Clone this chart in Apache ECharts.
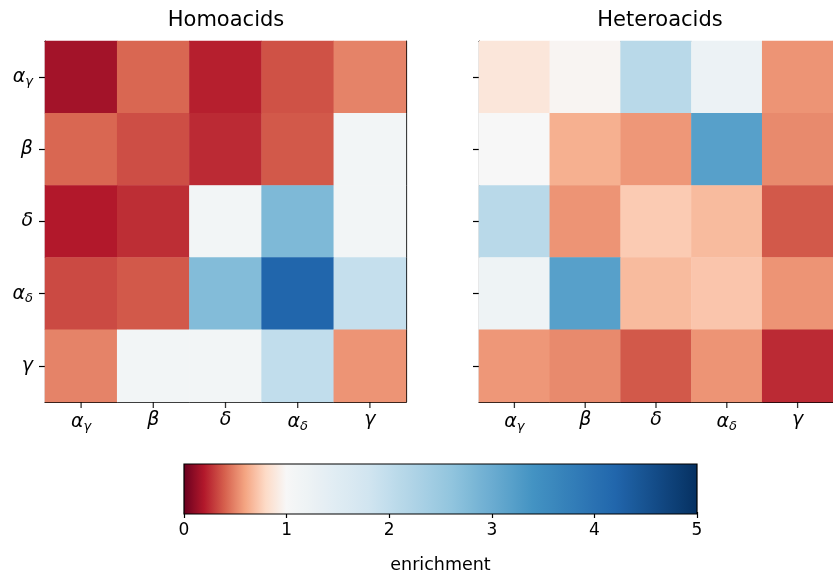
<!DOCTYPE html>
<html>
<head>
<meta charset="utf-8">
<script src="https://cdn.jsdelivr.net/npm/echarts@6/dist/echarts.min.js"></script>
<style>
  html, body { margin: 0; padding: 0; background: #fff; }
  #chart { width: 833px; height: 575px; }
</style>
</head>
<body>
<div id="chart"></div>
<script>
// residue classes (rows top -> bottom, columns left -> right)
var classes = ['αγ', 'β', 'δ', 'αδ', 'γ'];
var titles = ['Homoacids', 'Heteroacids'];

// enrichment values, one array per row
var homoRowAlphaGamma = [0.16, 0.42, 0.22, 0.36, 0.50];
var homoRowBeta       = [0.42, 0.35, 0.25, 0.38, 1.10];
var homoRowDelta      = [0.20, 0.26, 1.10, 2.80, 1.10];
var homoRowAlphaDelta = [0.34, 0.38, 2.75, 4.20, 1.95];
var homoRowGamma      = [0.50, 1.10, 1.10, 2.00, 0.55];

var heteroRowAlphaGamma = [0.88, 0.98, 2.10, 1.25, 0.55];
var heteroRowBeta       = [1.00, 0.64, 0.56, 3.20, 0.52];
var heteroRowDelta      = [2.10, 0.55, 0.74, 0.68, 0.38];
var heteroRowAlphaDelta = [1.20, 3.20, 0.68, 0.72, 0.55];
var heteroRowGamma      = [0.56, 0.52, 0.38, 0.55, 0.25];

// colour bar ticks
var barTicks = [0, 1, 2, 3, 4, 5];

var homoRows = [homoRowAlphaGamma, homoRowBeta, homoRowDelta, homoRowAlphaDelta, homoRowGamma];
var heteroRows = [heteroRowAlphaGamma, heteroRowBeta, heteroRowDelta, heteroRowAlphaDelta, heteroRowGamma];

// RdBu colormap, white centred at 1 on a 0..5 scale
var rdbu = ['#67001f', '#b2182b', '#d6604d', '#f4a582', '#fddbc7', '#f7f7f7',
            '#d1e5f0', '#92c5de', '#4393c3', '#2166ac', '#053061'];
function hexToRgb(h) {
    return [parseInt(h.substr(1, 2), 16), parseInt(h.substr(3, 2), 16), parseInt(h.substr(5, 2), 16)];
}
function colorAt(v) {
    var pos = v <= 1 ? 0.5 * v : 0.5 + 0.5 * (v - 1) / 4;
    var f = pos * 10;
    var i = Math.min(Math.floor(f), 9);
    var t = f - i;
    var a = hexToRgb(rdbu[i]), b = hexToRgb(rdbu[i + 1]);
    var c = a.map(function (x, k) { return Math.round(x + (b[k] - x) * t); });
    return 'rgb(' + c.join(',') + ')';
}
var mapColors = [];
var gradStops = [];
for (var s = 0; s <= 50; s++) {
    mapColors.push(colorAt(s / 10));
    gradStops.push({ offset: s / 50, color: colorAt(s / 10) });
}

function toCells(rows) {
    var out = [];
    rows.forEach(function (row, y) {
        row.forEach(function (v, x) { out.push([x, y, v]); });
    });
    return out;
}

var labelRich = {
    m: { fontFamily: 'DejaVu Sans', fontStyle: 'italic', fontSize: 19, color: '#000' },
    s: { fontFamily: 'DejaVu Sans', fontStyle: 'italic', fontSize: 13, color: '#000', padding: [9, 0, 0, 0] }
};
function fmtClass(v) {
    if (v.length === 2) return '{m|' + v[0] + '}{s|' + v[1] + '}';
    return '{m|' + v + '}';
}

var chart = echarts.init(document.getElementById('chart'));

var grids = [
    { left: 45, top: 41, width: 361, height: 361 },
    { left: 479, top: 41, width: 361, height: 361 },
    { left: 184, top: 464, width: 513, height: 50 },
    // thin strips under each heatmap that hold the bottom tick marks
    { left: 45, top: 402, width: 361, height: 6 },
    { left: 479, top: 402, width: 361, height: 6 }
];

function blackLine() {
    return { show: true, onZero: false, lineStyle: { color: '#000', width: 1.2 } };
}

function catX(gi) {
    return {
        type: 'category', gridIndex: gi, data: classes, position: 'bottom',
        axisLine: blackLine(),
        axisTick: { show: false },
        axisLabel: { interval: 0, fontSize: 19, formatter: fmtClass, rich: labelRich, margin: 9 },
        splitLine: { show: false }
    };
}
function catY(gi, showLabels) {
    return {
        type: 'category', gridIndex: gi, data: classes, inverse: true, position: 'left',
        axisLine: blackLine(),
        axisTick: { show: true, inside: false, interval: 0, alignWithLabel: true, length: 6, lineStyle: { color: '#000', width: 1.2 } },
        axisLabel: { show: showLabels, interval: 0, fontSize: 19, formatter: fmtClass, rich: labelRich, margin: 12 },
        splitLine: { show: false }
    };
}
// plain frame edges (top / right), drawn as extra axes without ticks
function frameX(gi) {
    return { type: 'category', gridIndex: gi, data: classes, position: 'top',
        axisLine: blackLine(), axisTick: { show: false }, axisLabel: { show: false }, splitLine: { show: false } };
}
function frameY(gi) {
    return { type: 'category', gridIndex: gi, data: classes, position: 'right', inverse: true,
        axisLine: blackLine(), axisTick: { show: false }, axisLabel: { show: false }, splitLine: { show: false } };
}
// hidden axes of the tick strips
function stripX(gi) {
    return { type: 'category', gridIndex: gi, data: classes, show: false };
}
function stripY(gi) {
    return { type: 'value', gridIndex: gi, min: 0, max: 1, show: false };
}
function tickSeries(ai) {
    return {
        type: 'scatter', xAxisIndex: ai, yAxisIndex: ai, silent: true,
        symbol: 'rect', symbolSize: [1.3, 6],
        itemStyle: { color: '#000' },
        data: classes.map(function (c) { return [c, 0.5]; })
    };
}

var option = {
    animation: false,
    backgroundColor: '#fff',
    grid: grids,
    xAxis: [
        catX(0), catX(1),
        {
            type: 'value', gridIndex: 2, min: 0, max: 5, interval: 1,
            axisLine: { show: false },
            axisTick: { show: true, length: 6, lineStyle: { color: '#000', width: 1.2 } },
            axisLabel: { fontFamily: 'DejaVu Sans', fontSize: 17, color: '#000', margin: 10,
                formatter: function (v) { return barTicks.indexOf(v) >= 0 ? String(v) : ''; } },
            splitLine: { show: false },
            name: 'enrichment', nameLocation: 'middle', nameGap: 44,
            nameTextStyle: { fontFamily: 'DejaVu Sans', fontSize: 17.5, color: '#000' }
        },
        frameX(0), frameX(1),
        stripX(3), stripX(4)
    ],
    yAxis: [
        catY(0, true), catY(1, false),
        { type: 'value', gridIndex: 2, min: 0, max: 1, show: false },
        frameY(0), frameY(1),
        stripY(3), stripY(4)
    ],
    visualMap: {
        type: 'continuous', show: false, min: 0, max: 5,
        seriesIndex: [0, 1],
        inRange: { color: mapColors }
    },
    series: [
        { type: 'heatmap', xAxisIndex: 0, yAxisIndex: 0, data: toCells(homoRows), itemStyle: { borderWidth: 0 } },
        { type: 'heatmap', xAxisIndex: 1, yAxisIndex: 1, data: toCells(heteroRows), itemStyle: { borderWidth: 0 } },
        tickSeries(5), tickSeries(6)
    ],
    graphic: [
        { type: 'text', x: 226, y: 21, style: { text: titles[0], fontFamily: 'DejaVu Sans', fontSize: 21, fill: '#000', textAlign: 'center', textVerticalAlign: 'middle' } },
        { type: 'text', x: 660, y: 21, style: { text: titles[1], fontFamily: 'DejaVu Sans', fontSize: 21, fill: '#000', textAlign: 'center', textVerticalAlign: 'middle' } },
        { type: 'rect', shape: { x: 184, y: 464, width: 513, height: 50 }, z: 10,
          style: { fill: new echarts.graphic.LinearGradient(0, 0, 1, 0, gradStops), stroke: '#000', lineWidth: 1.2 } }
    ]
};
chart.setOption(option);
</script>
</body>
</html>
